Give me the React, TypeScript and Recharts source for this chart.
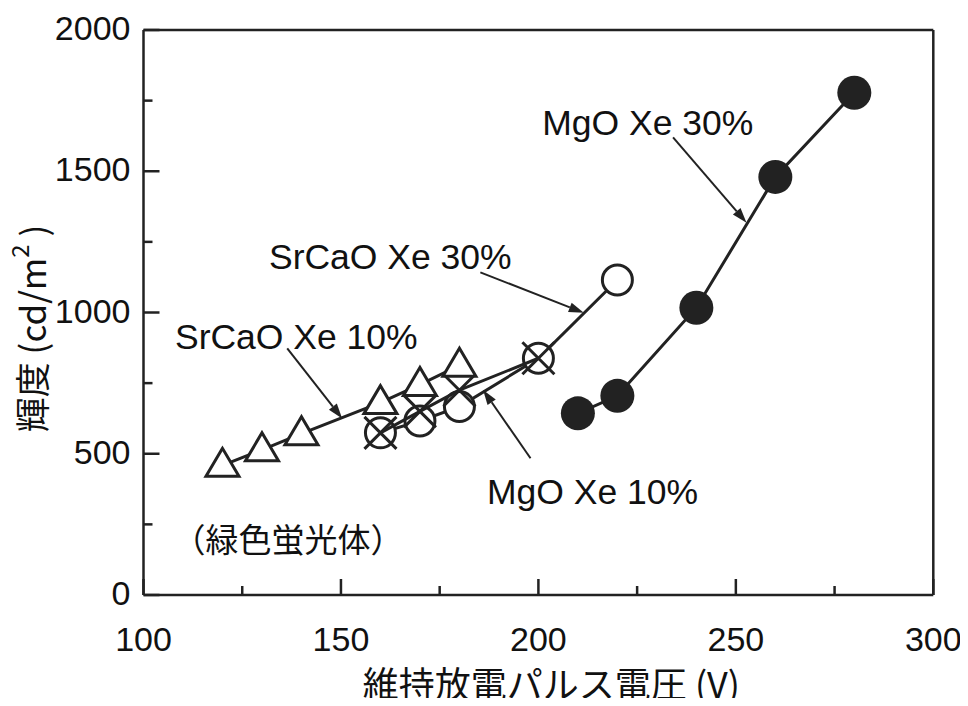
import { ComposedChart, Scatter, XAxis, YAxis, ReferenceLine, ReferenceDot } from "recharts";

const INK = "#222";
const TEXT = "#111";
const FONT = '"Liberation Sans", Arial, "Noto Sans CJK JP", sans-serif';
const CJK = '"Noto Sans CJK JP", "Liberation Sans", sans-serif';

// axis ticks (minor every 25 V / 250 cd)
const xTicks = [100, 125, 150, 175, 200, 225, 250, 275, 300];
const yTicks = [0, 250, 500, 750, 1000, 1250, 1500, 1750, 2000];

// MgO Xe 30% (filled circles)
const mgo30Volt = [210, 220, 240, 260, 280];
const mgo30Lum = [643, 705, 1017, 1480, 1778];

// SrCaO Xe 30% (open circles)
const srcao30Volt = [160, 170, 180, 200, 220];
const srcao30Lum = [574, 616, 667, 838, 1115];

// MgO Xe 10% (crosses)
const mgo10Volt = [160, 170, 180, 200];
const mgo10Lum = [574, 650, 725, 838];

// SrCaO Xe 10% (triangles)
const srcao10Volt = [120, 130, 140, 160, 170, 180];
const srcao10Lum = [459, 514, 571, 681, 745, 813];

const pts = (xs: number[], ys: number[]) => xs.map((x, i) => ({ x, y: ys[i] }));

// annotation labels and arrows, in data units
const notes = [
  { text: "MgO Xe 30%", at: { x: 227.7, y: 1674 }, from: { x: 234.1, y: 1620 }, to: { x: 252.7, y: 1318 } },
  { text: "SrCaO Xe 30%", at: { x: 162.5, y: 1197 }, from: { x: 185.3, y: 1142 }, to: { x: 211.5, y: 999 } },
  { text: "SrCaO Xe 10%", at: { x: 138.7, y: 914 }, from: { x: 136.4, y: 873 }, to: { x: 150.3, y: 625 } },
  { text: "MgO Xe 10%", at: { x: 213.7, y: 365 }, from: { x: 198, y: 484 }, to: { x: 186, y: 726 } },
];

const Arrow = (p: any) => {
  const { x1, y1, x2, y2 } = p;
  const dx = x2 - x1;
  const dy = y2 - y1;
  const len = Math.sqrt(dx * dx + dy * dy);
  const ux = dx / len;
  const uy = dy / len;
  const hl = 15;
  const hw = 5;
  const bx = x2 - ux * hl;
  const by = y2 - uy * hl;
  return (
    <g>
      <line x1={x1} y1={y1} x2={bx} y2={by} stroke={INK} strokeWidth={2} />
      <polygon
        points={`${x2},${y2} ${bx - uy * hw},${by + ux * hw} ${bx + uy * hw},${by - ux * hw}`}
        fill={INK}
      />
    </g>
  );
};

const BottomTick = (p: any) => {
  const v = p.payload.value;
  const major = v % 50 === 0;
  return (
    <g>
      <line x1={p.x} x2={p.x} y1={p.y} y2={p.y - (major ? 16 : 9)} stroke={INK} strokeWidth={2.5} />
      {major && (
        <text x={p.x} y={p.y + 44} textAnchor="middle" dominantBaseline="central" fontSize={34} fill={TEXT} fontFamily={FONT}>
          {v}
        </text>
      )}
    </g>
  );
};

const TopTick = (p: any) => {
  const major = p.payload.value % 50 === 0;
  return <line x1={p.x} x2={p.x} y1={p.y} y2={p.y + (major ? 16 : 9)} stroke={INK} strokeWidth={2.5} />;
};

const LeftTick = (p: any) => {
  const v = p.payload.value;
  const major = v % 500 === 0;
  return (
    <g>
      <line x1={p.x} x2={p.x + (major ? 16 : 9)} y1={p.y} y2={p.y} stroke={INK} strokeWidth={2.5} />
      {major && (
        <text x={p.x - 13} y={p.y - 2} textAnchor="end" dominantBaseline="central" fontSize={34} fill={TEXT} fontFamily={FONT}>
          {v}
        </text>
      )}
    </g>
  );
};

const RightTick = (p: any) => {
  const major = p.payload.value % 500 === 0;
  return <line x1={p.x} x2={p.x - (major ? 16 : 9)} y1={p.y} y2={p.y} stroke={INK} strokeWidth={2.5} />;
};

const XTitle = (p: any) => {
  const vb = p.viewBox;
  return (
    <text x={vb.x + vb.width / 2 + 13} y={vb.y + 87} textAnchor="middle" dominantBaseline="central" fontSize={36} fill={TEXT} fontFamily={CJK}>
      維持放電パルス電圧 (V)
    </text>
  );
};

const YTitle = (p: any) => {
  const vb = p.viewBox;
  const cx = vb.x + vb.width - 113;
  const cy = vb.y + vb.height / 2 + 16;
  return (
    <text x={cx} y={cy} transform={`rotate(-90 ${cx} ${cy})`} textAnchor="middle" dominantBaseline="central" fontSize={35} fill={TEXT} fontFamily={CJK}>
      輝度 (cd/m
      <tspan dy={-13} fontSize={24}>2</tspan>
      <tspan dy={13}> )</tspan>
    </text>
  );
};

const FilledDot = (p: any) => <circle cx={p.cx} cy={p.cy} r={17} fill={INK} />;
const OpenDot = (p: any) => <circle cx={p.cx} cy={p.cy} r={15} fill="#fff" stroke={INK} strokeWidth={3} />;
const Cross = (p: any) => {
  const s = 16;
  return (
    <path
      d={`M${p.cx - s},${p.cy - s}L${p.cx + s},${p.cy + s}M${p.cx - s},${p.cy + s}L${p.cx + s},${p.cy - s}`}
      stroke={INK}
      strokeWidth={3}
      fill="none"
    />
  );
};
const Triangle = (p: any) => (
  <polygon
    points={`${p.cx},${p.cy - 17} ${p.cx - 16.5},${p.cy + 11} ${p.cx + 16.5},${p.cy + 11}`}
    fill="#fff"
    stroke={INK}
    strokeWidth={3}
    strokeLinejoin="miter"
  />
);

export default function App() {
  const seriesLine = { stroke: INK, strokeWidth: 3 };
  return (
    <ComposedChart width={960} height={690} margin={{ top: 21, right: 33.7, bottom: 102, left: 134.5 }}>
      <XAxis
        type="number"
        dataKey="x"
        domain={[100, 300]}
        ticks={xTicks}
        interval={0}
        height={1}
        tickSize={0}
        tickMargin={0}
        tickLine={false}
        tick={BottomTick}
        axisLine={{ stroke: INK, strokeWidth: 2.5 }}
        label={{ content: XTitle }}
      />
      <XAxis
        xAxisId="top"
        orientation="top"
        type="number"
        domain={[100, 300]}
        ticks={xTicks}
        interval={0}
        height={1}
        tickSize={0}
        tickMargin={0}
        tickLine={false}
        tick={TopTick}
        axisLine={{ stroke: INK, strokeWidth: 2.5 }}
      />
      <YAxis
        type="number"
        dataKey="y"
        domain={[0, 2000]}
        ticks={yTicks}
        interval={0}
        width={1}
        tickSize={0}
        tickMargin={0}
        tickLine={false}
        tick={LeftTick}
        axisLine={{ stroke: INK, strokeWidth: 2.5 }}
        label={{ content: YTitle }}
      />
      <YAxis
        yAxisId="right"
        orientation="right"
        type="number"
        domain={[0, 2000]}
        ticks={yTicks}
        interval={0}
        width={1}
        tickSize={0}
        tickMargin={0}
        tickLine={false}
        tick={RightTick}
        axisLine={{ stroke: INK, strokeWidth: 2.5 }}
      />

      <Scatter data={pts(srcao30Volt, srcao30Lum)} line={seriesLine} lineType="joint" shape={OpenDot} isAnimationActive={false} />
      <Scatter data={pts(mgo10Volt, mgo10Lum)} line={seriesLine} lineType="joint" shape={Cross} isAnimationActive={false} />
      <Scatter data={pts(srcao10Volt, srcao10Lum)} line={seriesLine} lineType="joint" shape={Triangle} isAnimationActive={false} />
      <Scatter data={pts(mgo30Volt, mgo30Lum)} line={seriesLine} lineType="joint" shape={FilledDot} isAnimationActive={false} />

      {notes.map((n) => (
        <ReferenceLine key={n.text + "a"} segment={[n.from, n.to]} shape={Arrow} />
      ))}
      {notes.map((n) => (
        <ReferenceDot
          key={n.text}
          x={n.at.x}
          y={n.at.y}
          r={0}
          stroke="none"
          label={{ value: n.text, position: "center", fontSize: 35.5, fill: TEXT, fontFamily: FONT }}
        />
      ))}
      <ReferenceDot
        x={136.6}
        y={195}
        r={0}
        stroke="none"
        label={{ value: "（緑色蛍光体）", position: "center", fontSize: 33, fill: TEXT, fontFamily: CJK }}
      />
    </ComposedChart>
  );
}
